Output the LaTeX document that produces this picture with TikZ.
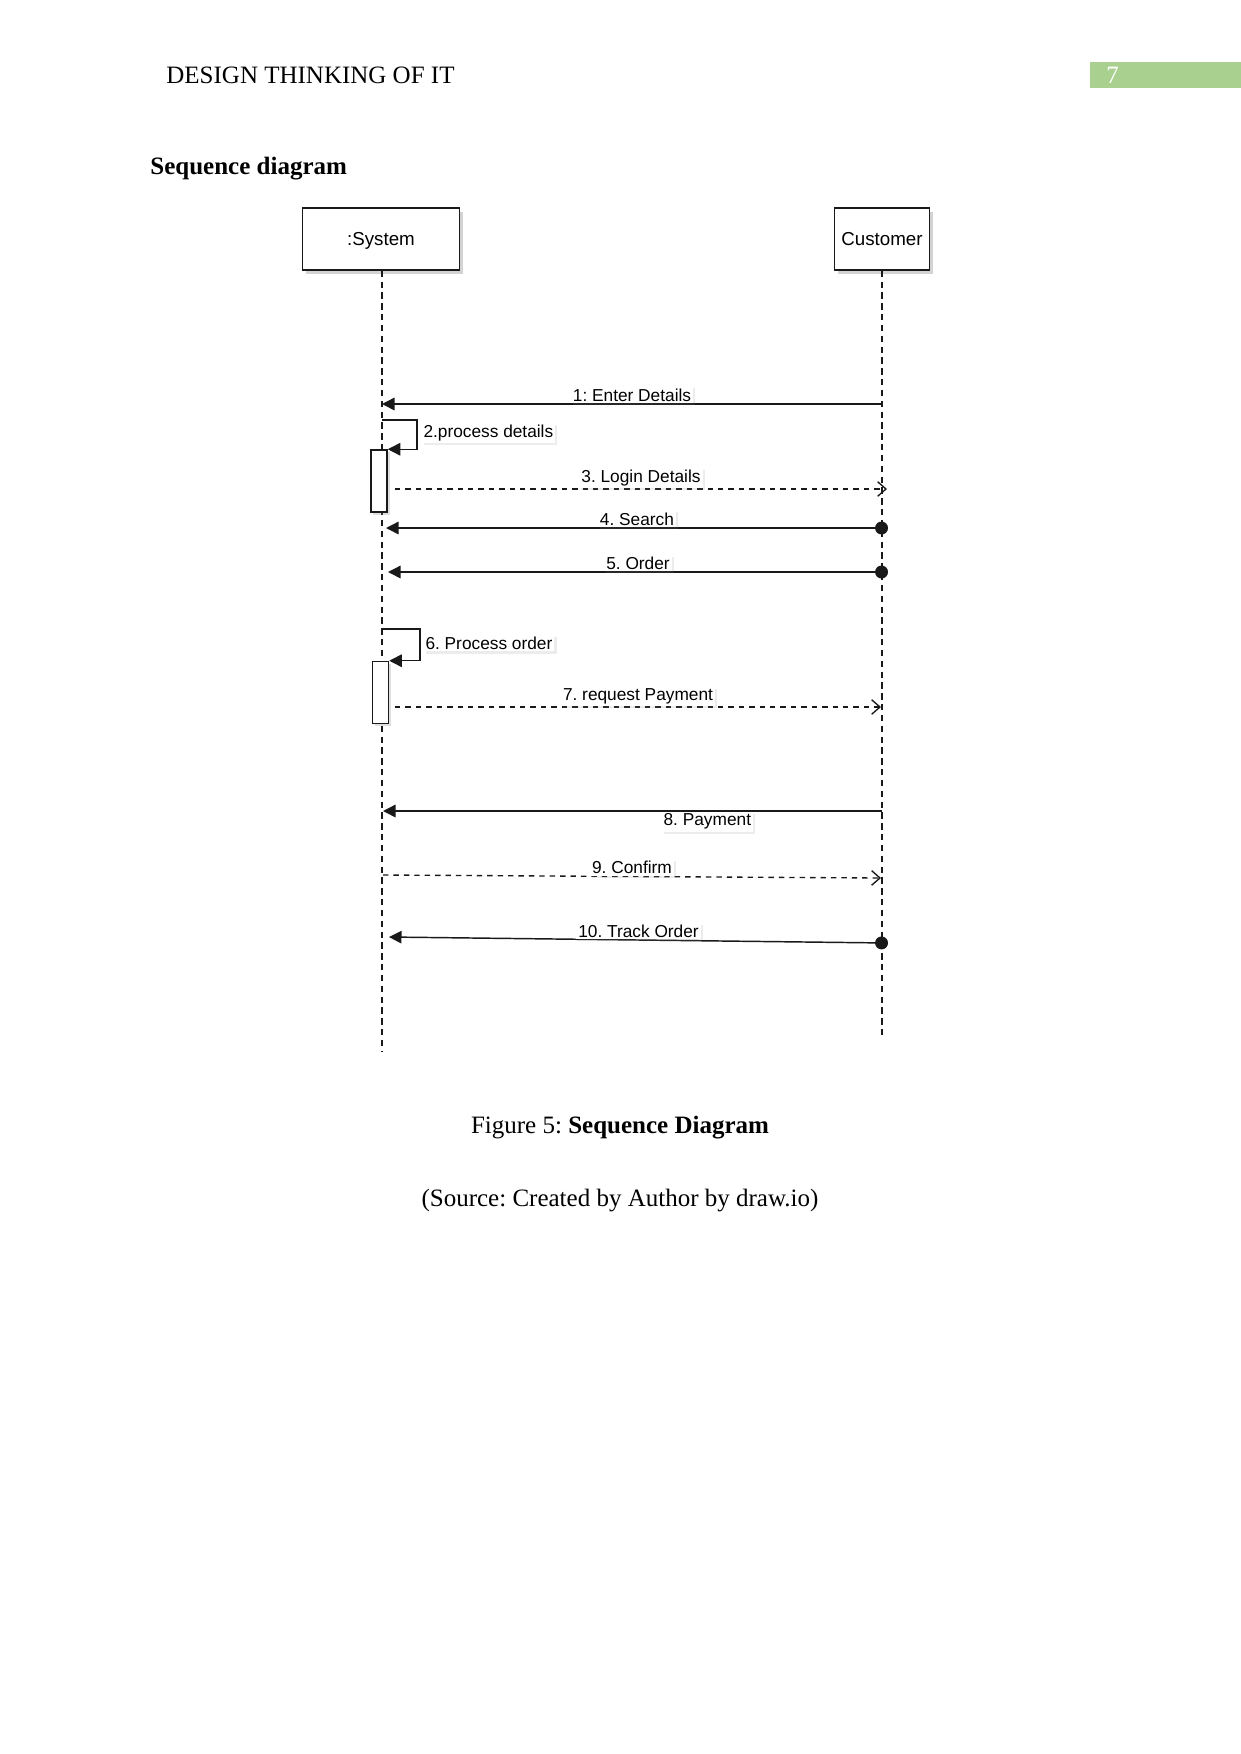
\documentclass[tikz,border=0pt]{standalone}
\usepackage{fontspec}
\setmainfont{Liberation Serif}
\newfontfamily\umlfont{Liberation Sans}
\usepackage{tikz}
\usetikzlibrary{arrows.meta, positioning, calc, shadows}
\usepackage{xcolor}
\definecolor{pagegreen}{RGB}{169,208,142}
\definecolor{umlline}{RGB}{25,25,25}
\frenchspacing

\begin{document}
\begin{tikzpicture}[x=0.48pt, y=-0.48pt,
  headbox/.style={draw=umlline, line width=0.7pt, fill=white, minimum height=29.8pt,
    text height=6.5pt, text depth=0pt, font=\umlfont\fontsize{9}{11}\selectfont,
    drop shadow={shadow xshift=1.8pt, shadow yshift=-1.8pt, opacity=0.35}},
  actbox/.style={draw=umlline, line width=0.7pt, fill=white, minimum width=7.7pt,
    minimum height=29.8pt, inner sep=0pt,
    drop shadow={shadow xshift=1.2pt, shadow yshift=-1.2pt, opacity=0.25}},
  lifeline/.style={draw=umlline, line width=0.6pt, dash pattern=on 3pt off 2.2pt},
  callmsg/.style={draw=umlline, line width=0.7pt, -{Triangle[length=6pt, width=6pt]}},
  dotmsg/.style={callmsg, {Circle[length=6.2pt]}-{Triangle[length=6pt, width=6pt]}},
  replymsg/.style={draw=umlline, line width=0.65pt, dash pattern=on 2.6pt off 2.4pt,
    -{Straight Barb[length=4pt, width=7pt]}},
  msglabel/.style={fill=white, inner sep=1pt, font=\umlfont\fontsize{8.3}{10}\selectfont,
    drop shadow={shadow xshift=1pt, shadow yshift=-1pt, opacity=0.15}},
  pagetext/.style={inner sep=0pt, font=\fontsize{12}{14}\selectfont}
]
  \useasboundingbox (0,0) rectangle (1241,1754);
  % Page header
  \node[pagetext, anchor=west] (header) at (166,75) {DESIGN THINKING OF IT};
  \fill[pagegreen] (1090,62) rectangle (1241,88);
  \node[pagetext, anchor=west, white] (pagenum) at (1106,75) {7};
  \node[pagetext, anchor=west, font=\bfseries\fontsize{12}{14}\selectfont] (title) at (150,168.5) {Sequence diagram};

  % Lifeline heads
  \node[headbox, minimum width=75.4pt] (sys) at (381,239) {:System};
  \node[headbox, minimum width=45.6pt] (cust) at (882,239) {Customer};
  % Lifelines
  \coordinate (sysend) at (382,1052);
  \coordinate (custend) at (882,1035);
  \draw[lifeline] (sys.south -| sysend) -- (sysend);
  \draw[lifeline] (cust.south) -- (custend);

  % Activations
  \node[actbox] (act1) at (379,481) {};
  \node[actbox] (act2) at (380.5,692.5) {};

  % 1: Enter Details
  \coordinate (c1) at (882,404); \coordinate (s1) at (382,404);
  \draw[callmsg] (c1) -- (s1) node[msglabel, midway, above] (l1) {1: Enter Details};
  % 2 self call
  \coordinate (s2) at (382,420);
  \draw[callmsg] (s2) -- ++(35,0) |- (act1.north east);
  \node[msglabel, anchor=west] (l2) at (421,433) {2.process details};
  % 3: Login Details
  \coordinate (s3) at (395,489); \coordinate (c3) at (887,489);
  \draw[replymsg] (s3) -- (c3) node[msglabel, midway, above] (l3) {3. Login Details};
  % 4: Search
  \coordinate (c4) at (888,528); \coordinate (s4) at (386,528);
  \draw[dotmsg] (c4) -- (s4) node[msglabel, midway, above] (l4) {4. Search};
  % 5: Order
  \coordinate (c5) at (888,572); \coordinate (s5) at (388,572);
  \draw[dotmsg] (c5) -- (s5) node[msglabel, midway, above] (l5) {5. Order};
  % 6 self call
  \coordinate (s6) at (382,629);
  \draw[callmsg] (s6) -- ++(38,0) |- (act2.north east);
  \node[msglabel, anchor=west] (l6) at (423,643) {6. Process order};
  % 7: request Payment
  \coordinate (s7) at (395,707); \coordinate (c7) at (881,707);
  \draw[replymsg] (s7) -- (c7) node[msglabel, midway, above] (l7) {7. request Payment};
  % 8: Payment
  \coordinate (c8) at (882,811); \coordinate (s8) at (383,811);
  \draw[callmsg] (c8) -- (s8) node[msglabel, pos=0.35, below] (l8) {8. Payment};
  % 9: Confirm
  \coordinate (s9) at (383,875); \coordinate (c9) at (881,878);
  \draw[replymsg] (s9) -- (c9) node[msglabel, midway, above] (l9) {9. Confirm};
  % 10: Track Order
  \coordinate (c10) at (888,943); \coordinate (s10) at (389,937);
  \draw[dotmsg] (c10) -- (s10) node[msglabel, midway, above] (l10) {10. Track Order};

  % Caption
  \node[pagetext] (caption) at (620,1127.5) {Figure 5: \textbf{Sequence Diagram}};
  \node[pagetext] (source) at (620,1201) {(Source: Created by Author by draw.io)};
\end{tikzpicture}
\end{document}
